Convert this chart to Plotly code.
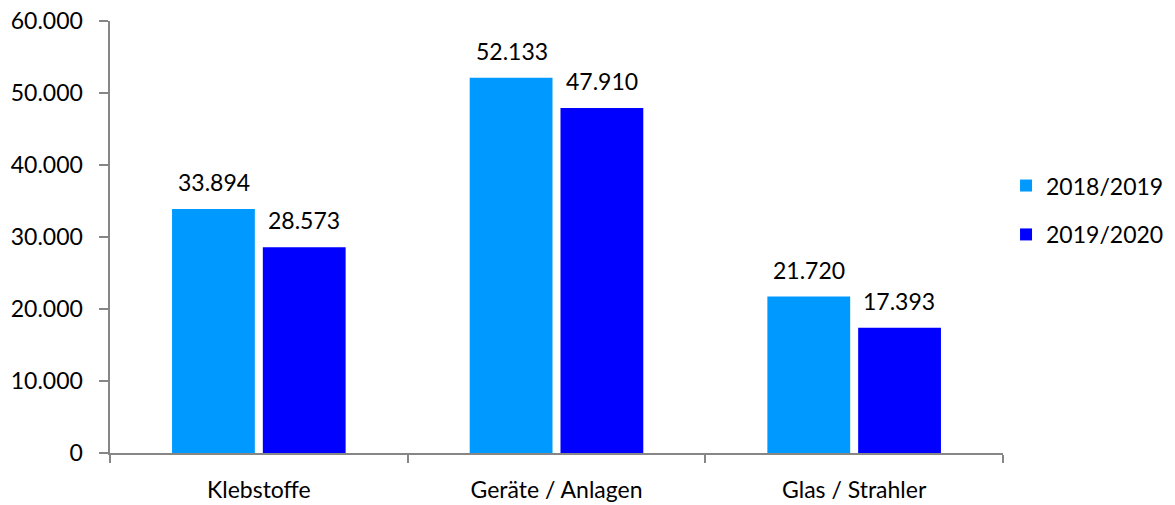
import plotly.graph_objects as go

categories = ["Klebstoffe", "Geräte / Anlagen", "Glas / Strahler"]
series_names = ["2018/2019", "2019/2020"]
values_2018_2019 = [33894, 52133, 21720]
values_2019_2020 = [28573, 47910, 17393]
colors = ["#0099FF", "#0000FF"]
y_ticks = [0, 10000, 20000, 30000, 40000, 50000, 60000]

def de(n):
    return f"{n:,}".replace(",", ".")

FONT = "Lato, 'Open Sans', sans-serif"
FS = 23
NB = "\u00a0"
fig = go.Figure()
for i, (name, vals) in enumerate(zip(series_names, [values_2018_2019, values_2019_2020])):
    fig.add_trace(go.Bar(
        x=categories, y=vals, name=name, marker=dict(color=colors[i], line=dict(width=0)),
        legendgroup=name, hoverinfo="skip",
    ))

annotations = []
for i, vals in enumerate([values_2018_2019, values_2019_2020]):
    for c, v in zip(categories, vals):
        annotations.append(dict(
            x=c, y=v, xref="x", yref="y", text=de(v), showarrow=False,
            xshift=(-45 if i == 0 else 45), yshift=11, yanchor="bottom",
            font=dict(family=FONT, size=FS, color="#000000"),
        ))

fig.update_layout(
    width=1175, height=505,
    margin=dict(l=110, r=172, t=21, b=52, pad=0, autoexpand=False),
    paper_bgcolor="white", plot_bgcolor="white",
    barmode="group", bargap=0.39, bargroupgap=0.088,
    separators=",.",
    font=dict(family=FONT, size=FS, color="#000000"),
    showlegend=True,
    legend=dict(xref="container", yref="container", x=0.8562, y=0.584,
                xanchor="left", yanchor="middle",
                tracegroupgap=16, font=dict(family=FONT, size=FS),
                itemwidth=30, borderwidth=0, bgcolor="rgba(0,0,0,0)"),
    annotations=annotations,
)
fig.update_xaxes(
    showline=True, linecolor="#868686", linewidth=1.5,
    ticks="outside", ticklen=8, tickcolor="#868686", tickwidth=1.5,
    tickson="boundaries", showgrid=False, zeroline=False,
    ticklabelstandoff=16, automargin=False,
    tickfont=dict(family=FONT, size=FS),
)
fig.update_yaxes(
    range=[0, 60000], tickvals=y_ticks, ticktext=[de(t) + NB * 2 for t in y_ticks],
    showline=True, linecolor="#868686", linewidth=1.5,
    ticks="outside", ticklen=9, tickcolor="#868686", tickwidth=1.5,
    showgrid=False, zeroline=False, automargin=False,
    tickfont=dict(family=FONT, size=FS),
)
fig.write_html("out.html", config={"displayModeBar": False},
               post_script="document.body.style.margin='0';document.body.style.overflow='hidden';")
